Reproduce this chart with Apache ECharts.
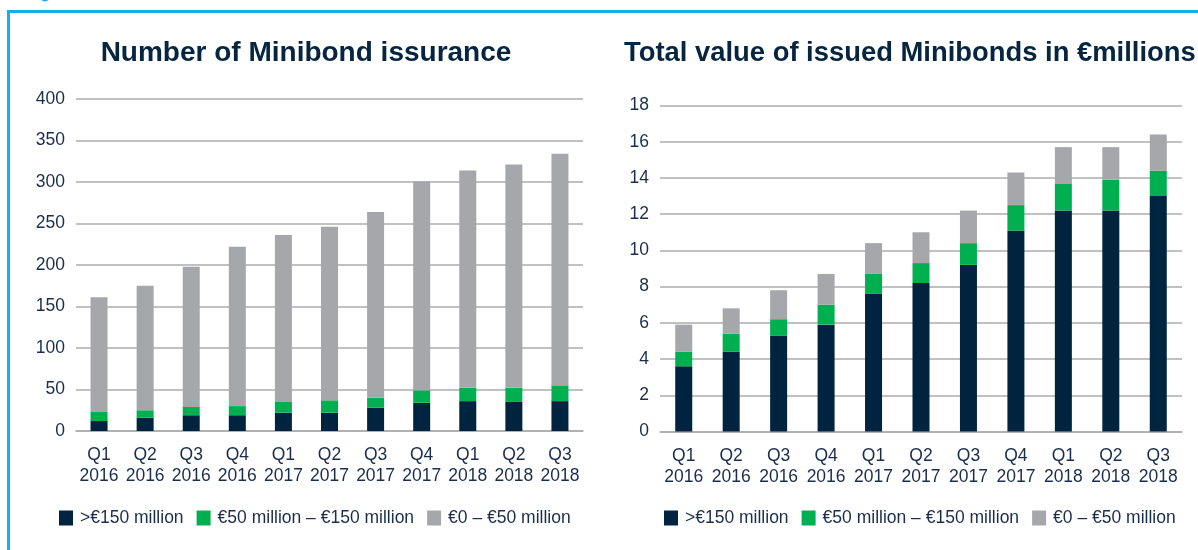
<!DOCTYPE html>
<html>
<head>
<meta charset="utf-8">
<script src="https://cdn.jsdelivr.net/npm/echarts@6/dist/echarts.min.js"></script>
<style>
html,body{margin:0;padding:0;background:#fff;}
#chart{width:1198px;height:550px;}
</style>
</head>
<body>
<div id="chart"></div>
<script>
const categories = ['Q1\n2016','Q2\n2016','Q3\n2016','Q4\n2016','Q1\n2017','Q2\n2017','Q3\n2017','Q4\n2017','Q1\n2018','Q2\n2018','Q3\n2018'];
const seriesNames = ['>€150 million','€50 million – €150 million','€0 – €50 million'];
// Number of issuances
const countAbove150 = [12,16,19,19,22,22,28,34,36,35,36];
const count50to150 = [11,9,10,11,13,15,12,15,16,17,19];
const count0to50 = [138,150,169,192,201,209,224,252,262,269,279];
// Total value in € millions
const valAbove150 = [3.6,4.4,5.3,5.9,7.6,8.2,9.2,11.1,12.2,12.2,13.0];
const val50to150 = [0.8,1.0,0.9,1.1,1.1,1.1,1.2,1.4,1.5,1.7,1.4];
const val0to50 = [1.5,1.4,1.6,1.7,1.7,1.7,1.8,1.8,2.0,1.8,2.0];

const titleLeft = 'Number of Minibond issurance';
const titleRight = 'Total value of issued Minibonds in €millions';

const colors = ['#00243f','#00b050','#a6a7aa'];
const textColor = '#1b2d4c';
const gridColor = '#acacac';
const labelFont = '"Liberation Sans",Arial,sans-serif';
const labelSize = 17.5;
const blue = '#1badE6';

const chart = echarts.init(document.getElementById('chart'));

function xAxis(gridIndex){
  return {
    type:'category', gridIndex, data: categories,
    axisLine:{show:true, lineStyle:{color:gridColor, width:1.5}},
    axisTick:{show:false},
    axisLabel:{color:textColor, fontFamily:labelFont, fontSize:labelSize, lineHeight:21, margin:14, interval:0}
  };
}
function yAxis(gridIndex, max, interval){
  return {
    type:'value', gridIndex, min:0, max, interval,
    axisLine:{show:false}, axisTick:{show:false},
    splitLine:{lineStyle:{color:gridColor, width:1.5}},
    axisLabel:{color:textColor, fontFamily:labelFont, fontSize:labelSize, margin:11}
  };
}
function bar(name, data, idx, color, stack){
  return {
    name, type:'bar', stack, xAxisIndex:idx, yAxisIndex:idx, data,
    barWidth:17, itemStyle:{color}, emphasis:{disabled:true}
  };
}
function legend(left){
  return {left, top:508, padding:0, itemWidth:14, itemHeight:15, itemGap:13, icon:'rect',
    textStyle:{color:textColor, fontFamily:labelFont, fontSize:17.5, lineHeight:20, padding:[0,0,0,2]},
    data:seriesNames, selectedMode:false};
}

chart.setOption({
  animation:false,
  backgroundColor:'#ffffff',
  grid:[
    {left:76, top:99, width:507, height:332},
    {left:660, top:105.5, width:522, height:326}
  ],
  xAxis:[xAxis(0), xAxis(1)],
  yAxis:[yAxis(0,400,50), yAxis(1,18,2)],
  legend:[legend(59), legend(664)],
  series:[
    bar(seriesNames[0], countAbove150, 0, colors[0], 'a'),
    bar(seriesNames[1], count50to150, 0, colors[1], 'a'),
    bar(seriesNames[2], count0to50, 0, colors[2], 'a'),
    bar(seriesNames[0], valAbove150, 1, colors[0], 'b'),
    bar(seriesNames[1], val50to150, 1, colors[1], 'b'),
    bar(seriesNames[2], val0to50, 1, colors[2], 'b')
  ],
  graphic:[
    {type:'rect', shape:{x:8.5, y:11.5, width:1300, height:700}, style:{fill:'none', stroke:blue, lineWidth:3}, silent:true},
    {type:'circle', shape:{cx:45, cy:-3.5, r:5}, style:{fill:blue}, silent:true},
    {type:'text', x:306, y:53, style:{text:titleLeft, font:'bold 28px "Liberation Sans",Arial,sans-serif', fill:'#062540', align:'center', verticalAlign:'middle'}},
    {type:'text', x:624, y:53, style:{text:titleRight, font:'bold 27.4px "Liberation Sans",Arial,sans-serif', fill:'#062540', align:'left', verticalAlign:'middle'}}
  ]
});
</script>
</body>
</html>
